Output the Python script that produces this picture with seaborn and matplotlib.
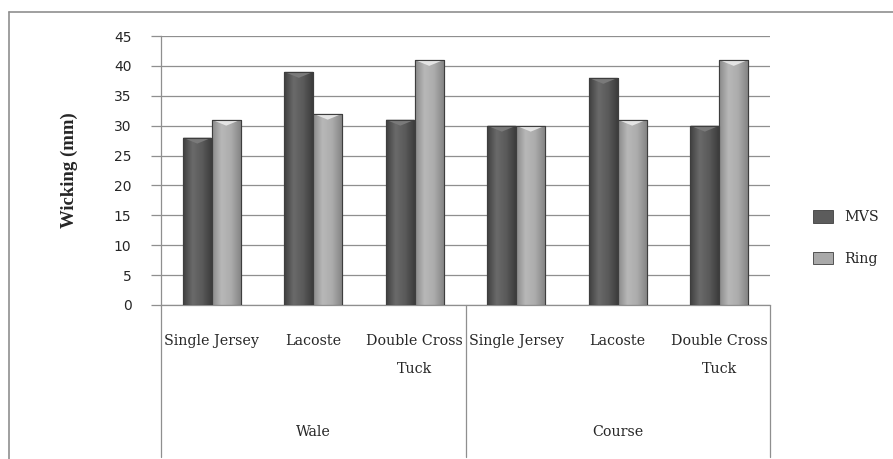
import numpy as np
import pandas as pd
import matplotlib
matplotlib.use("Agg")
import matplotlib.pyplot as plt
import seaborn as sns
from matplotlib.lines import Line2D
from matplotlib.colors import LinearSegmentedColormap

# Wicking height (mm) by fabric structure, measured along wale and course
directions = ["Wale", "Course"]
structures = ["Single Jersey", "Lacoste", "Double Cross\nTuck"]
mvs = [28, 39, 31, 30, 38, 30]
ring = [31, 32, 41, 30, 31, 41]
series = ["MVS", "Ring"]
yticks = [0, 5, 10, 15, 20, 25, 30, 35, 40, 45]

slots = [f"{d}|{s}" for d in directions for s in structures]
df = pd.DataFrame({
    "slot": slots * 2,
    "yarn": ["MVS"] * len(slots) + ["Ring"] * len(slots),
    "value": mvs + ring,
})

sns.set_theme(style="white")
plt.rcParams["font.family"] = ["DejaVu Serif"]

fig = plt.figure(figsize=(8.93, 4.59), dpi=100)
ax = fig.add_axes([161 / 893, 1 - 305 / 459, (770 - 161) / 893, (305 - 36) / 459])

base = {"MVS": "#5c5c5c", "Ring": "#a9a9a9"}
sns.barplot(data=df, x="slot", y="value", hue="yarn", order=slots,
            hue_order=series, palette=base, width=0.57, dodge=True,
            edgecolor="#3e3e3e", linewidth=0.8, ax=ax, legend=True, zorder=3)

# shaded cylinder-like fill for each bar
grad = {
    "MVS": LinearSegmentedColormap.from_list("m", ["#404040", "#6a6a6a", "#5a5a5a", "#3c3c3c"]),
    "Ring": LinearSegmentedColormap.from_list("r", ["#8a8a8a", "#b8b8b8", "#acacac", "#858585"]),
}
ramp = np.linspace(0, 1, 64).reshape(1, -1)
for cont, name in zip(ax.containers, series):
    for p in cont.patches:
        x0, w, h = p.get_x(), p.get_width(), p.get_height()
        im = ax.imshow(ramp, cmap=grad[name], aspect="auto",
                       extent=[x0, x0 + w, 0, h], zorder=3.5, interpolation="bicubic")
        im.set_clip_path(p)
        cap = "#e4e4e4" if name == "Ring" else "#7a7a7a"
        ax.fill([x0, x0 + w, x0 + w / 2], [h, h, h - 1.0], color=cap, zorder=4, lw=0)
        ax.plot([x0, x0 + w, x0 + w, x0, x0], [0, 0, h, h, 0], color="#3e3e3e", lw=0.8, zorder=4.5)

ax.set_xlim(-0.5, 5.5)
ax.set_ylim(0, 45)
ax.set_yticks(yticks)
ax.set_yticklabels([str(t) for t in yticks], fontfamily="DejaVu Sans", fontsize=10)
ax.yaxis.grid(True, color="#8f8f8f", lw=0.9, zorder=0)
ax.tick_params(axis="y", length=7.2, width=0.9, color="#8f8f8f", pad=14, left=True)
ax.tick_params(axis="x", length=0, pad=21)
ax.set_xticks(range(len(slots)))
ax.set_xticklabels(structures * 2, fontsize=10.3, linespacing=2.25)
for t in ax.get_xticklabels():
    t.set_verticalalignment("top")

for s in ["top", "right"]:
    ax.spines[s].set_visible(False)
for s in ["left", "bottom"]:
    ax.spines[s].set_color("#8f8f8f")
    ax.spines[s].set_linewidth(0.9)

ax.set_xlabel("")
ax.set_ylabel("Wicking (mm)", fontfamily="Liberation Serif", fontweight="bold",
              fontsize=13.5, labelpad=26)

# group separators and direction labels beneath the category labels
trans = ax.get_xaxis_transform()
bottom = -(457 - 305) / (305 - 36)
for xb in [-0.5, 2.5, 5.5]:
    ax.plot([xb, xb], [0, bottom], transform=trans, color="#8f8f8f", lw=0.9, clip_on=False)
for i, d in enumerate(directions):
    ax.text(i * 3 + 1, -(432 - 305) / (305 - 36), d, transform=trans,
            ha="center", va="center", fontsize=10.3)

ax.legend_.remove()
handles = [plt.Rectangle((0, 0), 1, 1, facecolor=base[n], edgecolor="#3e3e3e", lw=0.6) for n in series]
fig.legend(handles, series, loc="center left", bbox_to_anchor=(800 / 893, 1 - 238 / 459),
           frameon=False, fontsize=10.3, labelspacing=1.9, handlelength=1.4,
           handleheight=1.0, handletextpad=0.8)

# outer chart frame
fig.add_artist(Line2D([9 / 893, 9 / 893], [0, 1 - 12 / 459], transform=fig.transFigure,
                      color="#8f8f8f", lw=1.2))
fig.add_artist(Line2D([9 / 893, 1], [1 - 12 / 459, 1 - 12 / 459], transform=fig.transFigure,
                      color="#8f8f8f", lw=1.2))

fig.savefig("out.png", dpi=100)
